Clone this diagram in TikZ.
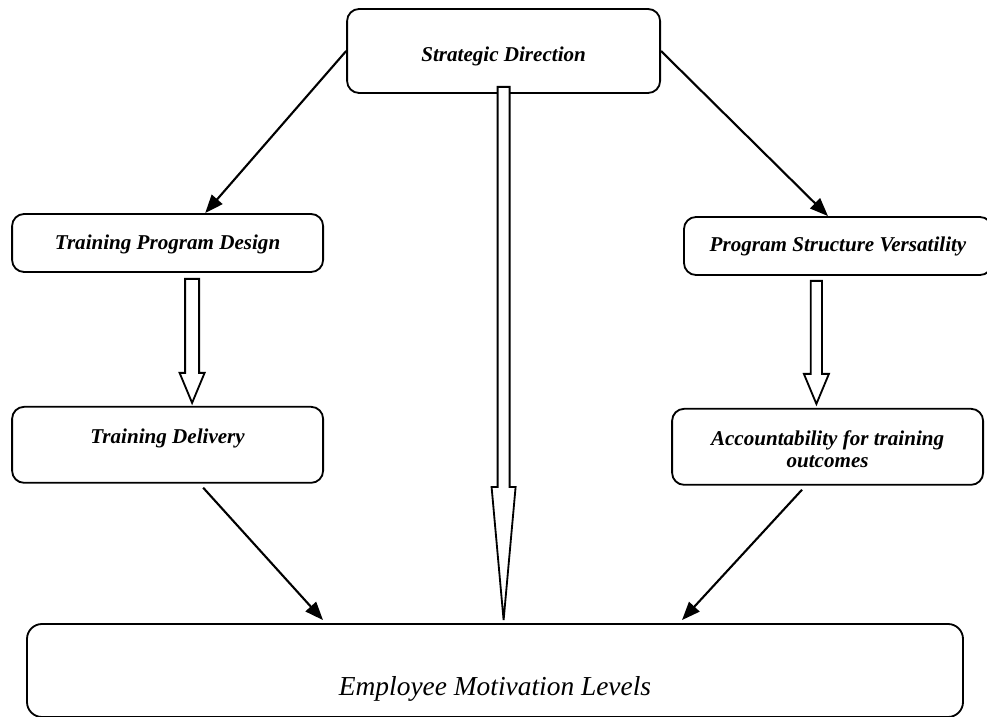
\documentclass[tikz,border=0pt]{standalone}
\usepackage{fontspec}
\setmainfont{Liberation Serif}
\usepackage{tikz}
\usetikzlibrary{
        arrows.meta,
        calc,
        positioning,
        shapes
    }
\tikzset{>={Triangle[length=13pt,width=10pt]},node distance=2cm}
\tikzset{box/.style={draw,rounded corners=0.3cm,line width=1.3pt,align=center,
        font=\fontsize{15}{16}\selectfont\bfseries\itshape}}
\tikzset{hollow/.style={draw,line width=1.3pt,fill=white}}

\newcommand{\hollowarrow}[5]{%
    \draw[hollow] let \p1=(#1), \p2=(#2) in
        (\x1-#3,\y1) -- (\x1+#3,\y1) -- (\x1+#3,\y2+#5) -- (\x1+#4,\y2+#5)
        -- (\x1,\y2) -- (\x1-#4,\y2+#5) -- (\x1-#3,\y2+#5) -- cycle;}

\begin{document}
\begin{tikzpicture}[>={Triangle[length=13pt,width=10pt]},line width=1.3pt,node distance=2cm]
                \useasboundingbox (0,0) rectangle (24.675,17.925);
                \node[box,minimum width=7.825cm,minimum height=2.1cm,text height=17.5pt] (sd) at (12.59,16.65) {Strategic Direction};
                \node[box,minimum width=7.775cm,minimum height=1.45cm,text height=13pt] (tpd) at (4.19,11.85) {Training Program Design};
                \node[box,minimum width=7.7cm,minimum height=1.45cm] (psv) at (20.95,11.775) {Program Structure Versatility};
                \node[box,minimum width=7.775cm,minimum height=1.9cm,text depth=12pt] (td) [below=3.325cm of tpd] {Training Delivery};
                \node[box,minimum width=7.775cm,minimum height=1.9cm,text height=30pt] (acc) [below=3.3cm of psv,xshift=-0.26cm] {Accountability for training\\outcomes};
                \node[box,minimum width=23.4cm,minimum height=2.325cm,rounded corners=0.375cm,text height=40pt,text depth=4.5pt,
                    font=\fontsize{19.5}{24}\selectfont\itshape] (eml) at (12.375,1.1625) {Employee Motivation Levels};
                \path[->,line width=1.5pt]
                    (sd.west)  edge  ([xshift=0.94cm]tpd.north)
                    (sd.east)  edge  ([xshift=-0.25cm]psv.north)
                    ([xshift=0.89cm,yshift=-0.1cm]td.south)  edge  ([xshift=-4.3cm,yshift=0.075cm]eml.north)
                    ([xshift=-0.64cm,yshift=-0.1cm]acc.south)  edge  ([xshift=4.675cm,yshift=0.075cm]eml.north);
                \hollowarrow{$(tpd.south)+(0.6125,-0.15)$}{$(tpd.south |- td.north)+(0.6125,0.075)$}{0.175cm}{0.3125cm}{0.75cm}
                \hollowarrow{$(psv.south)+(-0.54,-0.125)$}{$(psv.south |- acc.north)+(-0.54,0.1)$}{0.14cm}{0.3125cm}{0.75cm}
                \hollowarrow{$(sd.south)+(0,0.175)$}{$(sd.south |- eml.north)+(0,0.075)$}{0.15cm}{0.3cm}{3.325cm}
            \end{tikzpicture}
\end{document}
